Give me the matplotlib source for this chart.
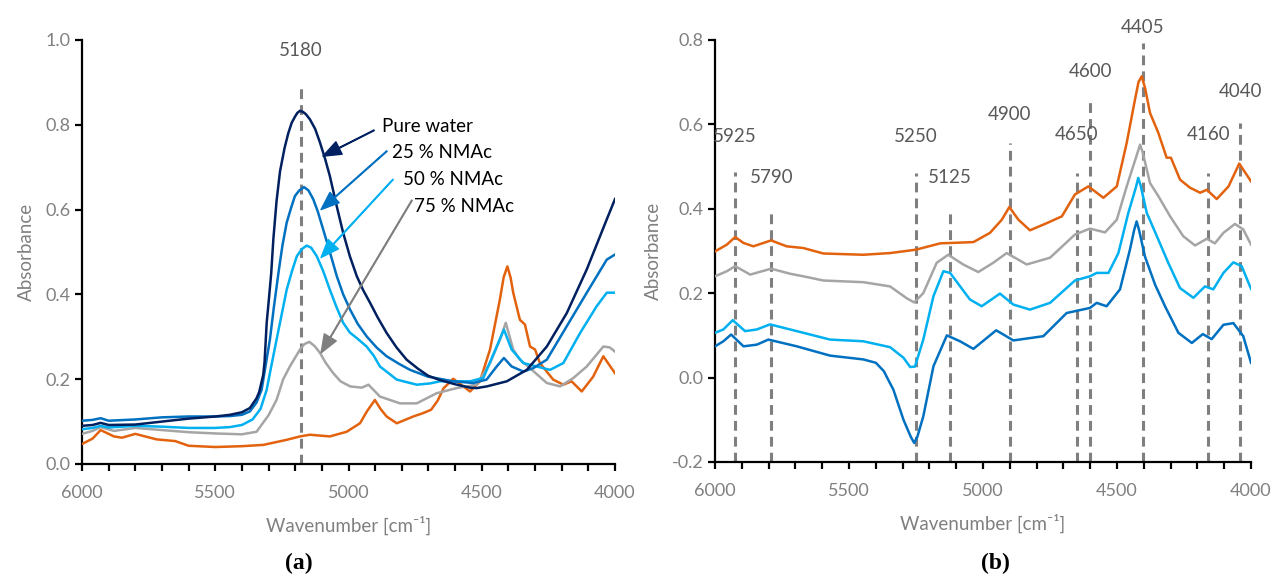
import matplotlib
matplotlib.use("Agg")
import matplotlib.pyplot as plt
from matplotlib.ticker import MultipleLocator, FormatStrFormatter

plt.rcParams['font.family'] = ['Lato', 'DejaVu Sans']
plt.rcParams['axes.unicode_minus'] = False

# colours of the spectra
NAVY = '#002060'
BLUE = '#0070C0'
LIGHT = '#00B0F0'
GRAY = '#A5A5A5'
ORANGE = '#E2620E'
TXT = '#595959'
TICK = '#808080'
DASH = '#7F7F7F'

# ---- panel (a): spectra ----
a_water_wn = [6000, 5960, 5930, 5900, 5800, 5700, 5600, 5500, 5445, 5400, 5370, 5345, 5335, 5320,
              5315, 5307, 5300, 5290, 5282, 5270, 5257, 5240, 5226, 5213, 5200, 5192, 5182, 5170,
              5160, 5145, 5125, 5107, 5088, 5070, 5045, 5020, 4995, 4969, 4945, 4919, 4890, 4857,
              4820, 4782, 4740, 4701, 4657, 4600, 4544, 4519, 4481, 4406, 4331, 4256, 4181, 4106,
              4031, 4000]
a_water_abs = [0.090, 0.092, 0.097, 0.092, 0.093, 0.100, 0.107, 0.112, 0.116, 0.122, 0.132, 0.155,
               0.170, 0.210, 0.240, 0.333, 0.380, 0.450, 0.530, 0.620, 0.690, 0.745, 0.780, 0.805,
               0.820, 0.828, 0.833, 0.830, 0.825, 0.813, 0.790, 0.758, 0.720, 0.679, 0.610, 0.545,
               0.490, 0.443, 0.410, 0.380, 0.345, 0.309, 0.275, 0.246, 0.225, 0.208, 0.198, 0.188,
               0.180, 0.179, 0.183, 0.195, 0.222, 0.277, 0.356, 0.459, 0.577, 0.625]

a_25_wn = [6000, 5960, 5930, 5900, 5800, 5700, 5600, 5500, 5445, 5400, 5370, 5345, 5326, 5295,
           5280, 5263, 5248, 5232, 5215, 5201, 5185, 5167, 5150, 5132, 5115, 5095, 5070, 5044,
           5020, 4994, 4965, 4932, 4895, 4857, 4810, 4769, 4702, 4607, 4532, 4482, 4444, 4417,
           4388, 4344, 4307, 4256, 4181, 4106, 4031, 4000]
a_25_abs = [0.102, 0.104, 0.108, 0.102, 0.105, 0.110, 0.112, 0.112, 0.113, 0.116, 0.124, 0.145,
            0.175, 0.293, 0.370, 0.450, 0.515, 0.569, 0.605, 0.632, 0.645, 0.653, 0.645, 0.624,
            0.595, 0.553, 0.500, 0.443, 0.400, 0.364, 0.330, 0.301, 0.275, 0.254, 0.236, 0.222,
            0.206, 0.195, 0.191, 0.199, 0.230, 0.250, 0.230, 0.218, 0.226, 0.246, 0.325, 0.404,
            0.482, 0.494]

a_50_wn = [6000, 5960, 5930, 5900, 5800, 5700, 5600, 5500, 5445, 5400, 5360, 5330, 5307, 5290,
           5270, 5250, 5232, 5212, 5194, 5175, 5157, 5140, 5119, 5095, 5070, 5045, 5020, 4995,
           4969, 4932, 4905, 4882, 4819, 4744, 4694, 4657, 4544, 4494, 4444, 4417, 4388, 4344,
           4294, 4244, 4194, 4131, 4069, 4031, 4000]
a_50_abs = [0.082, 0.085, 0.090, 0.086, 0.090, 0.088, 0.085, 0.085, 0.087, 0.092, 0.105, 0.130,
            0.175, 0.230, 0.293, 0.355, 0.411, 0.455, 0.490, 0.507, 0.515, 0.510, 0.490, 0.455,
            0.411, 0.370, 0.333, 0.310, 0.297, 0.277, 0.255, 0.230, 0.199, 0.187, 0.190, 0.195,
            0.195, 0.203, 0.277, 0.317, 0.270, 0.238, 0.230, 0.222, 0.238, 0.309, 0.372, 0.404,
            0.404]

a_75_wn = [6000, 5960, 5930, 5880, 5800, 5700, 5600, 5500, 5400, 5345, 5300, 5270, 5245, 5220,
           5182, 5165, 5147, 5127, 5107, 5085, 5057, 5030, 4994, 4950, 4925, 4882, 4807, 4744,
           4694, 4669, 4594, 4519, 4469, 4432, 4410, 4382, 4357, 4319, 4256, 4206, 4156, 4106,
           4044, 4020, 4000]
a_75_abs = [0.071, 0.078, 0.087, 0.078, 0.085, 0.080, 0.075, 0.072, 0.070, 0.076, 0.115, 0.151,
            0.200, 0.230, 0.270, 0.283, 0.288, 0.278, 0.262, 0.238, 0.214, 0.195, 0.183, 0.180,
            0.187, 0.159, 0.143, 0.143, 0.159, 0.167, 0.179, 0.187, 0.238, 0.293, 0.333, 0.270,
            0.246, 0.226, 0.191, 0.183, 0.203, 0.230, 0.277, 0.275, 0.265]

a_100_wn = [6000, 5960, 5930, 5880, 5850, 5800, 5720, 5650, 5600, 5500, 5400, 5320, 5232, 5182,
            5145, 5070, 5007, 4957, 4930, 4901, 4880, 4857, 4819, 4757, 4720, 4690, 4665, 4644,
            4607, 4569, 4544, 4507, 4469, 4432, 4418, 4404, 4392, 4382, 4357, 4338, 4319, 4300,
            4282, 4232, 4194, 4163, 4125, 4082, 4044, 4000]
a_100_abs = [0.047, 0.060, 0.080, 0.065, 0.062, 0.071, 0.058, 0.054, 0.043, 0.040, 0.042, 0.045,
             0.057, 0.065, 0.069, 0.065, 0.076, 0.096, 0.125, 0.151, 0.130, 0.112, 0.096, 0.112,
             0.120, 0.128, 0.150, 0.178, 0.201, 0.183, 0.171, 0.195, 0.270, 0.388, 0.440, 0.466,
             0.440, 0.404, 0.340, 0.329, 0.277, 0.270, 0.238, 0.199, 0.187, 0.195, 0.171, 0.206,
             0.254, 0.214]

# ---- panel (b): spectra ----
b_100_wn = [6000, 5956, 5925, 5894, 5857, 5791, 5733, 5671, 5596, 5447, 5347, 5251, 5160, 5036,
            4974, 4930, 4902, 4868, 4825, 4762, 4706, 4657, 4607, 4551, 4501, 4464, 4433, 4420,
            4408, 4395, 4377, 4346, 4315, 4299, 4265, 4228, 4190, 4165, 4128, 4084, 4044, 4000]
b_100_abs = [0.299, 0.315, 0.333, 0.319, 0.311, 0.325, 0.311, 0.307, 0.294, 0.291, 0.295, 0.303,
             0.318, 0.321, 0.343, 0.374, 0.404, 0.374, 0.349, 0.366, 0.382, 0.434, 0.453, 0.426,
             0.453, 0.556, 0.659, 0.700, 0.714, 0.685, 0.627, 0.580, 0.521, 0.521, 0.469, 0.450,
             0.438, 0.445, 0.423, 0.453, 0.507, 0.465]

b_75_wn = [6000, 5956, 5925, 5869, 5791, 5720, 5671, 5596, 5447, 5347, 5285, 5257, 5223, 5173,
           5130, 5074, 5018, 4962, 4912, 4837, 4750, 4657, 4601, 4545, 4501, 4464, 4425, 4414,
           4405, 4377, 4346, 4302, 4253, 4209, 4165, 4135, 4103, 4060, 4029, 4000]
b_75_abs = [0.240, 0.252, 0.264, 0.244, 0.258, 0.246, 0.240, 0.230, 0.226, 0.216, 0.188, 0.178,
            0.200, 0.272, 0.291, 0.268, 0.250, 0.272, 0.295, 0.268, 0.284, 0.339, 0.353, 0.344,
            0.374, 0.453, 0.530, 0.552, 0.535, 0.461, 0.430, 0.382, 0.335, 0.313, 0.329, 0.318,
            0.343, 0.364, 0.351, 0.315]

b_50_wn = [6000, 5969, 5934, 5888, 5844, 5795, 5695, 5571, 5447, 5347, 5297, 5272, 5254, 5223,
           5185, 5148, 5123, 5049, 5005, 4937, 4887, 4825, 4750, 4657, 4601, 4576, 4532, 4495,
           4458, 4430, 4421, 4412, 4389, 4346, 4309, 4265, 4215, 4172, 4141, 4103, 4066, 4035,
           4000]
b_50_abs = [0.106, 0.114, 0.136, 0.110, 0.114, 0.126, 0.110, 0.090, 0.086, 0.072, 0.047, 0.025,
            0.026, 0.090, 0.193, 0.252, 0.248, 0.185, 0.169, 0.199, 0.173, 0.161, 0.177, 0.230,
            0.240, 0.248, 0.248, 0.295, 0.390, 0.450, 0.473, 0.455, 0.390, 0.327, 0.272, 0.212,
            0.189, 0.216, 0.209, 0.248, 0.273, 0.264, 0.210]

b_25_wn = [6000, 5969, 5940, 5894, 5844, 5801, 5695, 5571, 5447, 5400, 5370, 5350, 5335, 5297,
           5270, 5257, 5245, 5223, 5185, 5135, 5086, 5036, 4951, 4887, 4775, 4688, 4601, 4576,
           4539, 4489, 4452, 4436, 4427, 4418, 4396, 4358, 4321, 4271, 4221, 4180, 4147, 4103,
           4066, 4029, 4000]
b_25_abs = [0.074, 0.086, 0.102, 0.074, 0.078, 0.090, 0.074, 0.052, 0.043, 0.035, 0.015, -0.010,
            -0.028, -0.100, -0.140, -0.155, -0.140, -0.092, 0.027, 0.100, 0.086, 0.068, 0.112,
            0.088, 0.098, 0.153, 0.165, 0.177, 0.169, 0.209, 0.303, 0.350, 0.370, 0.350, 0.287,
            0.220, 0.169, 0.106, 0.082, 0.103, 0.091, 0.125, 0.129, 0.098, 0.035]

# marker lines: position, top of line, label height
a_marks = [5180]
a_mark_top = [0.898]
a_mark_lab = [0.974]

b_marks = [5925, 5790, 5250, 5125, 4900, 4650, 4600, 4405, 4160, 4040]
b_mark_top = [0.486, 0.394, 0.485, 0.394, 0.556, 0.485, 0.655, 0.793, 0.485, 0.603]
b_mark_lab = [0.572, 0.473, 0.572, 0.473, 0.623, 0.576, 0.726, 0.830, 0.576, 0.678]

# callouts in panel (a)
a_names = ['Pure water', '25 % NMAc', '50 % NMAc', '75 % NMAc']
a_name_xy = [(4876, 0.797), (4838, 0.735), (4797, 0.671), (4754, 0.608)]
a_tail_xy = [(4904, 0.787), (4856, 0.738), (4833, 0.671), (4762, 0.622)]
a_head_xy = [(5096, 0.726), (5103, 0.600), (5103, 0.487), (5103, 0.262)]
a_name_col = [NAVY, BLUE, LIGHT, DASH]

LW = 1.8
FS = 13.5
TFS = 13


def style_axes(ax, ylo, yhi):
    ax.set_xlim(6000, 4000)
    ax.set_ylim(ylo, yhi)
    for s in ['top', 'right']:
        ax.spines[s].set_visible(False)
    for s in ['left', 'bottom']:
        ax.spines[s].set_linewidth(1.6)
        ax.spines[s].set_color('black')
    ax.xaxis.set_major_locator(MultipleLocator(500))
    ax.xaxis.set_minor_locator(MultipleLocator(100))
    ax.yaxis.set_major_locator(MultipleLocator(0.2))
    ax.yaxis.set_major_formatter(FormatStrFormatter('%.1f'))
    ax.tick_params(axis='both', which='major', labelsize=TFS, labelcolor=TICK,
                   length=5, width=1.6, color='black', direction='out')
    ax.tick_params(axis='x', which='minor', length=5, width=1.6, color='black', direction='out')
    ax.tick_params(axis='x', which='major', pad=10)
    ax.set_xlabel('Wavenumber [cm⁻¹]', fontsize=FS, color=TICK, labelpad=11)
    ax.set_ylabel('Absorbance', fontsize=FS, color=TICK, labelpad=7)


def marker(ax, x, top, lab, bottom):
    ax.plot([x, x], [bottom, top], color=DASH, lw=2.2, linestyle=(0, (3.2, 2.0)),
            zorder=1, clip_on=False)
    ax.text(x, lab, str(x), ha='center', va='center', fontsize=FS, color=TXT, clip_on=False)


fig = plt.figure(figsize=(12.71, 5.81), dpi=100)
ax1 = fig.add_axes([0.0645, 0.2014, 0.4194, 0.7298])
ax2 = fig.add_axes([0.5626, 0.2049, 0.4217, 0.7263])

# panel (a)
ax1.plot(a_100_wn, a_100_abs, color=ORANGE, lw=LW, zorder=3)
ax1.plot(a_75_wn, a_75_abs, color=GRAY, lw=LW, zorder=3)
ax1.plot(a_50_wn, a_50_abs, color=LIGHT, lw=LW, zorder=3)
ax1.plot(a_25_wn, a_25_abs, color=BLUE, lw=LW, zorder=3)
ax1.plot(a_water_wn, a_water_abs, color=NAVY, lw=LW, zorder=3)
style_axes(ax1, 0.0, 1.0)
for x, top, lab in zip(a_marks, a_mark_top, a_mark_lab):
    marker(ax1, x, top, lab, 0.0)
for name, txy, tail, head, col in zip(a_names, a_name_xy, a_tail_xy, a_head_xy, a_name_col):
    ax1.annotate('', xy=head, xytext=tail,
                 arrowprops=dict(facecolor=col, edgecolor=col, width=0.5, headwidth=10,
                                 headlength=13, shrink=0), zorder=5)
    ax1.text(txy[0], txy[1], name, ha='left', va='center', fontsize=FS, color='black')

# panel (b)
ax2.plot(b_100_wn, b_100_abs, color=ORANGE, lw=LW, zorder=3)
ax2.plot(b_75_wn, b_75_abs, color=GRAY, lw=LW, zorder=3)
ax2.plot(b_50_wn, b_50_abs, color=LIGHT, lw=LW, zorder=3)
ax2.plot(b_25_wn, b_25_abs, color=BLUE, lw=LW, zorder=3)
style_axes(ax2, -0.2, 0.8)
for x, top, lab in zip(b_marks, b_mark_top, b_mark_lab):
    marker(ax2, x, top, lab, -0.2)

fig.text(0.2348, 0.031, '(a)', ha='center', va='center', fontsize=17, fontweight='bold',
         family='Liberation Serif')
fig.text(0.7828, 0.031, '(b)', ha='center', va='center', fontsize=17, fontweight='bold',
         family='Liberation Serif')

fig.savefig('out.png', dpi=100)
